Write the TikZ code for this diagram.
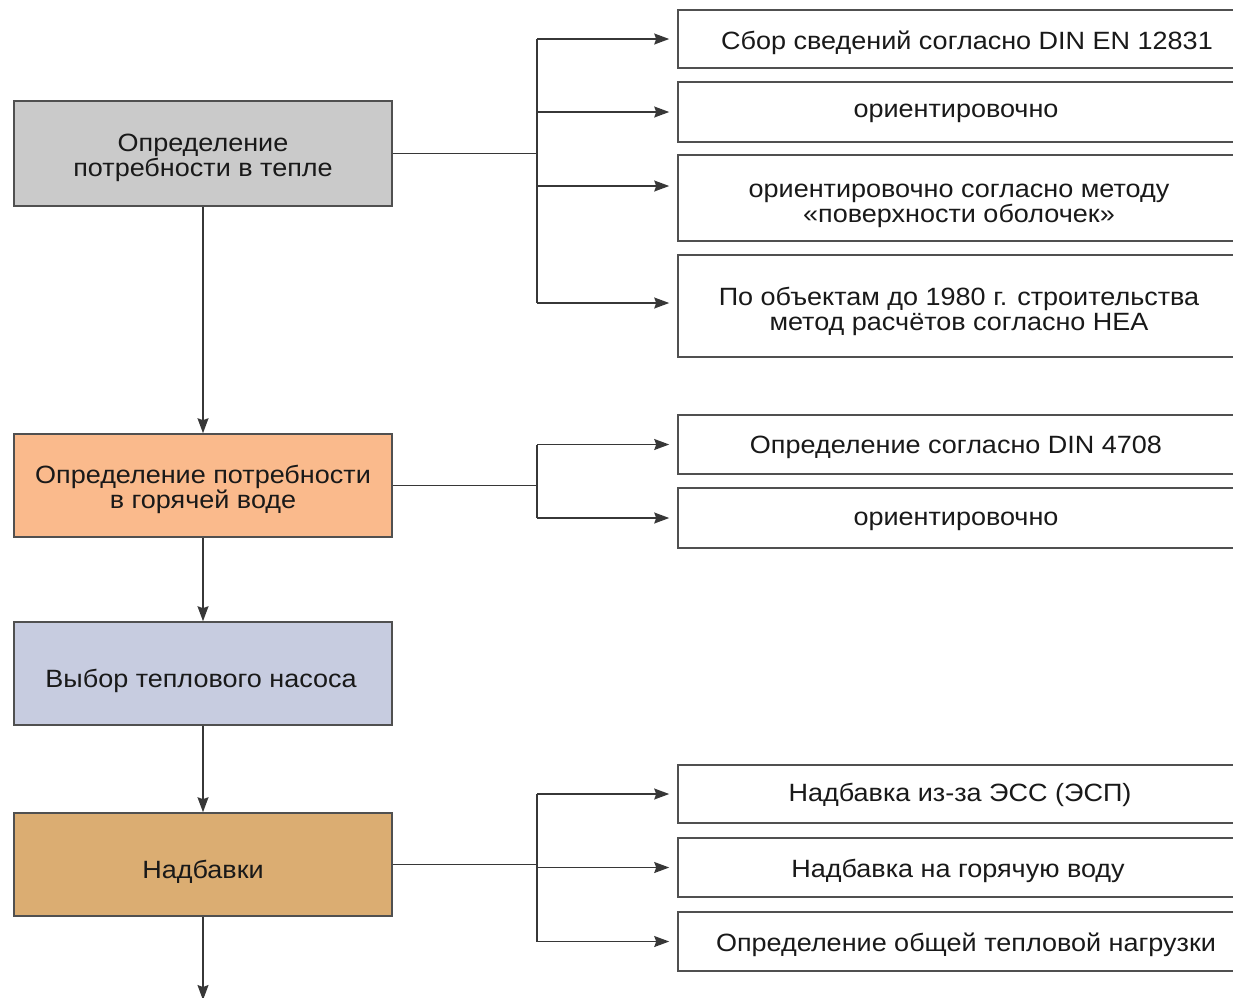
\documentclass[tikz,border=0pt]{standalone}
\usepackage{fontspec}
\setmainfont{Liberation Sans}[FakeStretch=1.08]
\usetikzlibrary{arrows.meta}
\definecolor{cgray}{RGB}{202,202,202}
\definecolor{corange}{RGB}{250,186,140}
\definecolor{cblue}{RGB}{199,204,224}
\definecolor{ctan}{RGB}{219,173,114}
\definecolor{cline}{RGB}{55,55,55}
\definecolor{cbord}{RGB}{80,80,80}
\definecolor{ctext}{RGB}{25,25,25}
\begin{document}
\begin{tikzpicture}[x=1pt,y=-1pt,
  font=\fontsize{25}{25}\selectfont,
  txt/.style={text=ctext, align=center, inner sep=0pt},
  lbox/.style={draw=cbord, line width=1.6pt, inner sep=0pt, minimum width=378pt},
  rbox/.style={draw=cbord, line width=1.6pt, fill=white, inner sep=0pt, minimum width=556pt},
  conn/.style={draw=cline, line width=1.3pt},
  arr/.style={conn, -{Stealth[length=15pt,width=11pt,inset=2pt]}, shorten >=8pt}]
\useasboundingbox (0,0) rectangle (1233,997);
\clip (0,0) rectangle (1233,997);
\fill[white] (0,0) rectangle (1233,997);

% left column
\node[lbox, fill=cgray, minimum height=105pt] (a) at (203,153.5) {};
\node[lbox, fill=corange, minimum height=103pt] (b) at (203,485.5) {};
\node[lbox, fill=cblue, minimum height=103pt] (c) at (203,673.5) {};
\node[lbox, fill=ctan, minimum height=103pt] (d) at (203,864.5) {};
\node[txt] (ta) at ([yshift=-4pt]a.center) {Определение\\потребности в тепле};
\node[txt] (tb) at ([yshift=-4pt]b.center) {Определение потребности\\в горячей воде};
\node[txt] (tc) at ([xshift=-2pt,yshift=-7pt]c.center) {Выбор теплового насоса};
\node[txt] (td) at ([yshift=-7pt]d.center) {Надбавки};
\coordinate (e) at (203,1000);

% right column
\node[rbox, minimum height=58pt] (r1) at (956,39) {};
\node[rbox, minimum height=60pt] (r2) at (956,112) {};
\node[rbox, minimum height=86pt] (r3) at (956,198) {};
\node[rbox, minimum height=102pt] (r4) at (956,306) {};
\node[rbox, minimum height=59pt] (r5) at (956,444.5) {};
\node[rbox, minimum height=60pt] (r6) at (956,518) {};
\node[rbox, minimum height=58pt] (r7) at (956,794) {};
\node[rbox, minimum height=59pt] (r8) at (956,867.5) {};
\node[rbox, minimum height=59pt] (r9) at (956,941.5) {};
\node[txt] (t1) at ([xshift=11pt,yshift=-4pt]r1.center) {Сбор сведений согласно DIN EN 12831};
\node[txt] (t2) at ([yshift=-1pt]r2.center) {ориентировочно};
\node[txt] (t3) at ([xshift=3pt,yshift=-8pt]r3.center) {ориентировочно согласно методу\\«поверхности оболочек»};
\node[txt] (t4) at ([xshift=3pt,yshift=-5pt]r4.center) {По объектам до 1980 г. строительства\\метод расчётов согласно HEA};
\node[txt] (t5) at ([yshift=-3pt]r5.center) {Определение согласно DIN 4708};
\node[txt] (t6) at ([yshift=-3pt]r6.center) {ориентировочно};
\node[txt] (t7) at ([xshift=4pt,yshift=-1pt]r7.center) {Надбавка из-за ЭСС (ЭСП)};
\node[txt] (t8) at ([xshift=2pt,yshift=-3pt]r8.center) {Надбавка на горячую воду};
\node[txt] (t9) at ([xshift=10pt,yshift=-3pt]r9.center) {Определение общей тепловой нагрузки};

% junctions
\coordinate (j1) at (537,153.5);
\coordinate (j2) at (537,485.5);
\coordinate (j3) at (537,864.5);
\coordinate (r3in) at ([yshift=12pt]r3.west);
\coordinate (r4in) at ([yshift=3pt]r4.west);

% main flow
\draw[arr, shorten >=0pt] (a.south) -- (b.north);
\draw[arr, shorten >=0pt] (b.south) -- (c.north);
\draw[arr, shorten >=0pt] (c.south) -- (d.north);
\draw[arr, shorten >=0pt] (d.south) -- (e);

% branch 1
\draw[conn] (a.east) -- (j1);
\draw[conn] (j1 |- r1.west) -- (j1 |- r4in);
\draw[arr] (j1 |- r1.west) -- (r1.west);
\draw[arr] (j1 |- r2.west) -- (r2.west);
\draw[arr] (j1 |- r3in) -- (r3in);
\draw[arr] (j1 |- r4in) -- (r4in);

% branch 2
\draw[conn] (b.east) -- (j2);
\draw[conn] (j2 |- r5.west) -- (j2 |- r6.west);
\draw[arr] (j2 |- r5.west) -- (r5.west);
\draw[arr] (j2 |- r6.west) -- (r6.west);

% branch 3
\draw[conn] (d.east) -- (j3);
\draw[conn] (j3 |- r7.west) -- (j3 |- r9.west);
\draw[arr] (j3 |- r7.west) -- (r7.west);
\draw[arr] (j3 |- r8.west) -- (r8.west);
\draw[arr] (j3 |- r9.west) -- (r9.west);
\end{tikzpicture}
\end{document}
